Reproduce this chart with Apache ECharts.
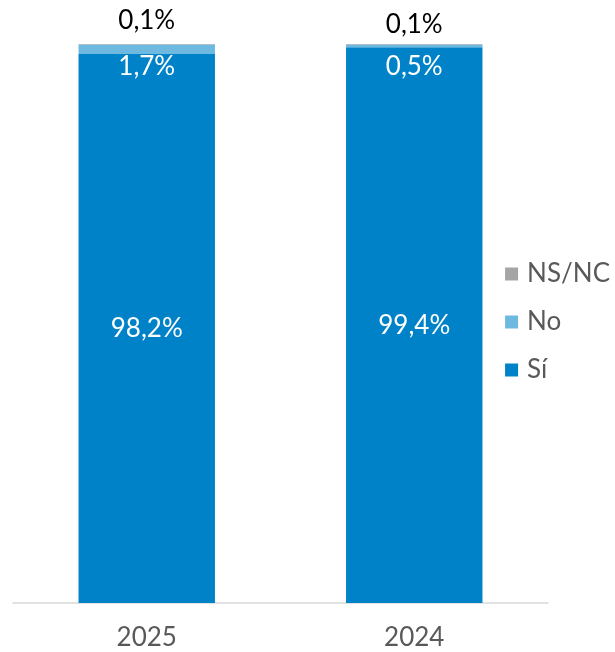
<!DOCTYPE html>
<html lang="es" style="height: 100%">
<head>
    <meta charset="UTF-8">
    <title>Sí / No / NS-NC</title>
    <script src="https://cdn.jsdelivr.net/npm/echarts@6/dist/echarts.min.js"></script>
</head>
<body style="height: 100%; margin: 0">
<div id="main" style="width: 615px; height: 652px"></div>
<script>
    var years = ['2025', '2024'];
    var si = [98.2, 99.4];
    var no = [1.7, 0.5];
    var nsnc = [0.1, 0.1];

    function pct(p) {
        return p.value.toFixed(1).replace('.', ',') + '%';
    }

    // label nudges to match the original placement
    var noOffsets = [[0, 17], [0, 21]];
    var nsncOffsets = [[0, 0], [0, 4]];

    var myChart = echarts.init(document.getElementById('main'));
    myChart.setOption({
        textStyle: {fontFamily: 'Lato'},
        animation: false,
        grid: {left: 13, right: 67, top: 44, bottom: 49, containLabel: false},
        legend: {
            orient: 'vertical',
            right: 0,
            top: 256,
            icon: 'rect',
            itemWidth: 13,
            itemHeight: 13,
            itemGap: 22,
            data: ['NS/NC', 'No', 'Sí'],
            textStyle: {color: '#595959', fontSize: 26, fontFamily: 'Lato', padding: [0, 0, 0, 4]}
        },
        xAxis: {
            type: 'category',
            data: years,
            axisLine: {lineStyle: {color: '#d9d9d9', width: 1.5}},
            axisTick: {show: false},
            axisLabel: {color: '#595959', fontSize: 26, margin: 22}
        },
        yAxis: {
            type: 'value',
            min: 0,
            max: 100,
            show: false,
            splitLine: {show: false}
        },
        series: [{
            name: 'Sí',
            type: 'bar',
            stack: 'total',
            barWidth: '51%',
            itemStyle: {color: '#0082c8'},
            label: {show: true, position: 'inside', color: '#fff', fontSize: 26, formatter: pct},
            data: si
        }, {
            name: 'No',
            type: 'bar',
            stack: 'total',
            itemStyle: {color: '#6db9e0'},
            label: {show: true, position: 'inside', color: '#fff', fontSize: 26, formatter: pct},
            data: no.map(function (v, i) {
                return {value: v, label: {offset: noOffsets[i]}};
            })
        }, {
            name: 'NS/NC',
            type: 'bar',
            stack: 'total',
            itemStyle: {color: '#a5a5a5'},
            label: {show: true, position: 'top', distance: 10, color: '#000', fontSize: 26, formatter: pct},
            data: nsnc.map(function (v, i) {
                return {value: v, label: {offset: nsncOffsets[i]}};
            })
        }]
    });
</script>
</body>
</html>
